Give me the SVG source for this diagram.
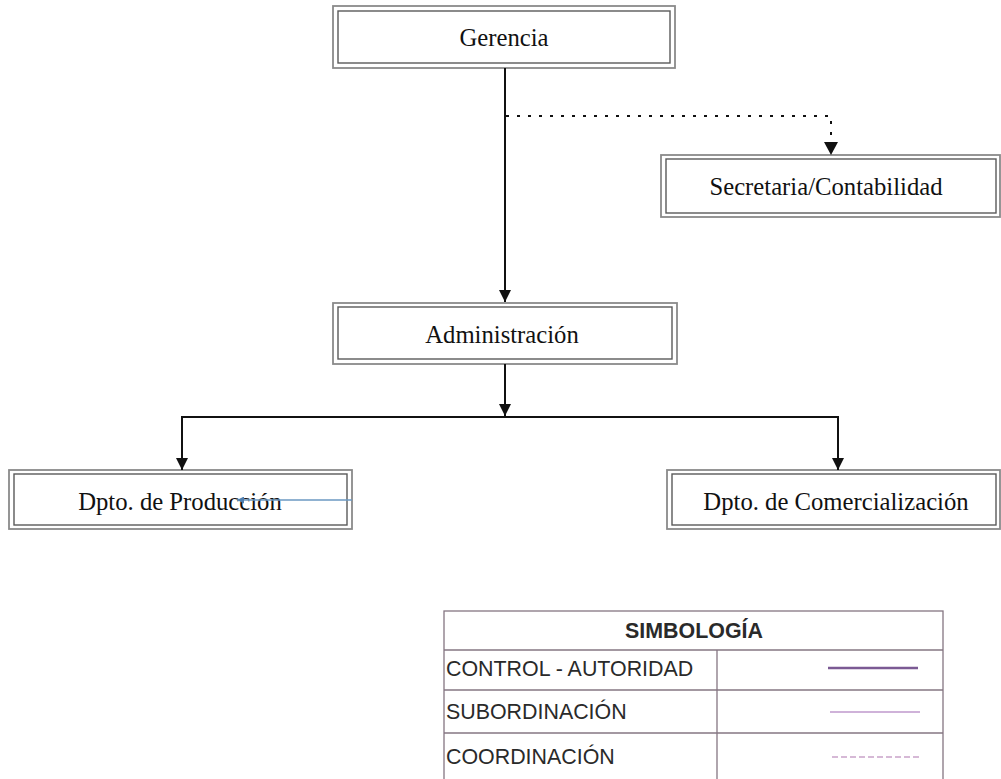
<svg xmlns="http://www.w3.org/2000/svg" width="1001" height="779" viewBox="0 0 1001 779">
<style>
.outer{fill:#fff;stroke:#8a8a8a;stroke-width:1.8}
.inner{fill:none;stroke:#5a5a5a;stroke-width:1.4}
.lbl{font-family:"Liberation Serif","Times New Roman",serif;font-size:24.7px;fill:#111;text-anchor:middle}
.conn{fill:none;stroke:#111;stroke-width:2}
.dot{fill:none;stroke:#111;stroke-width:2;stroke-dasharray:3 8}
.tb{fill:none;stroke:#857682;stroke-width:1.3}
.tt{font-family:"Liberation Sans",Arial,sans-serif;font-size:21.4px;fill:#2a2a2a}
</style>
<defs>
<marker id="ah" markerWidth="12" markerHeight="12" viewBox="0 0 12 12" refX="12" refY="6" orient="auto" markerUnits="userSpaceOnUse">
<path d="M0,0 L12,6 L0,12 Z" fill="#111"/>
</marker>
<marker id="ahb" markerWidth="7" markerHeight="7" viewBox="0 0 7 7" refX="7" refY="3.5" orient="auto" markerUnits="userSpaceOnUse">
<path d="M0,0 L7,3.5 L0,7 Z" fill="#4f7fb0"/>
</marker>
</defs>

<g id="gerencia">
<rect class="outer" x="333" y="6" width="342" height="62"/>
<rect class="inner" x="338" y="11" width="332" height="52"/>
<text class="lbl" x="504" y="46">Gerencia</text>
</g>

<g id="secretaria">
<rect class="outer" x="661" y="155" width="339" height="62"/>
<rect class="inner" x="666" y="159" width="330" height="54"/>
<text class="lbl" x="826" y="195">Secretaria/Contabilidad</text>
</g>

<g id="administracion">
<rect class="outer" x="333" y="303" width="344" height="61"/>
<rect class="inner" x="338" y="307" width="334" height="52"/>
<text class="lbl" x="502" y="343">Administración</text>
</g>

<g id="produccion">
<rect class="outer" x="9" y="470" width="343" height="59"/>
<rect class="inner" x="14" y="474" width="333" height="51"/>
<text class="lbl" x="180" y="510">Dpto. de Producción</text>
</g>

<g id="comercializacion">
<rect class="outer" x="667" y="470" width="333" height="59"/>
<rect class="inner" x="672" y="474" width="324" height="51"/>
<text class="lbl" x="836" y="510">Dpto. de Comercialización</text>
</g>

<g id="connectors">
<line class="conn" x1="505" y1="68" x2="505" y2="302" marker-end="url(#ah)"/>
<path class="dot" d="M506,116 H831 V145"/>
<path d="M824,142 L838,142 L831,155 Z" fill="#111"/>
<line class="conn" x1="505" y1="364" x2="505" y2="416" marker-end="url(#ah)"/>
<line class="conn" x1="181" y1="417" x2="839" y2="417"/>
<line class="conn" x1="182" y1="417" x2="182" y2="470" marker-end="url(#ah)"/>
<line class="conn" x1="838" y1="417" x2="838" y2="470" marker-end="url(#ah)"/>
<line x1="352" y1="500" x2="237" y2="500" stroke="#6b98c2" stroke-width="1.3" marker-end="url(#ahb)"/>
</g>

<g id="simbologia">
<rect class="tb" x="444" y="611" width="499" height="180"/>
<line class="tb" x1="444" y1="650" x2="943" y2="650"/>
<line class="tb" x1="444" y1="690" x2="943" y2="690"/>
<line class="tb" x1="444" y1="733" x2="943" y2="733"/>
<line class="tb" x1="717" y1="650" x2="717" y2="779"/>
<text class="tt" x="694" y="638" text-anchor="middle" font-weight="bold">SIMBOLOGÍA</text>
<text class="tt" x="446" y="676">CONTROL - AUTORIDAD</text>
<text class="tt" x="446" y="719">SUBORDINACIÓN</text>
<text class="tt" x="446" y="764">COORDINACIÓN</text>
<line x1="828" y1="668" x2="918" y2="668" stroke="#7b5a94" stroke-width="2.6"/>
<line x1="830" y1="712" x2="920" y2="712" stroke="#cfb2d9" stroke-width="1.8"/>
<line x1="832" y1="757" x2="922" y2="757" stroke="#c9a2c9" stroke-width="1.4" stroke-dasharray="6 3"/>
</g>
</svg>
